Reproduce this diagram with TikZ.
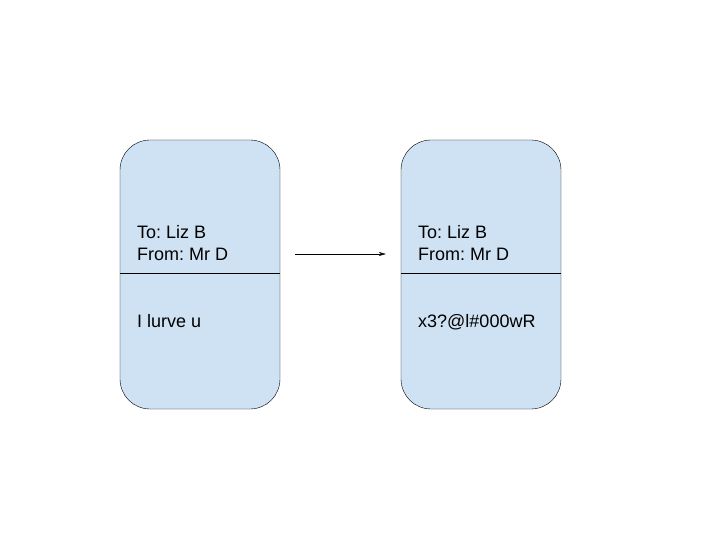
\documentclass[tikz,border=0pt]{standalone}
\usepackage{fontspec}
\setmainfont{Liberation Sans}
\usetikzlibrary{arrows.meta}
\usetikzlibrary{calc}
\definecolor{msgblue}{HTML}{CFE2F3}
\frenchspacing

\begin{document}
\begin{tikzpicture}[x=1pt,y=-1pt,font=\fontsize{18}{22}\selectfont,
	letter/.style={draw,fill=msgblue,rounded corners=30pt,minimum width=160pt,minimum height=269pt,inner sep=0pt},
	txt/.style={anchor=base west,inner sep=0pt,align=left}]
					\useasboundingbox (0,0) rectangle (720,540);
					\foreach \name/\x/\body in {plain/120/I lurve u, cipher/401/x3?@l\#000wR} {
						\node[letter] (\name) at (\x+80,274.5) {};
						\draw ($(\name.west)+(0,-1.5)$) -- ($(\name.east)+(0,-1.5)$);
						\node[txt] (\name to) at (\x+17,238) {To: Liz B};
						\node[txt] (\name from) at (\x+17,260) {From: Mr D};
						\node[txt] (\name body) at (\x+17,327) {\body};
					}
					\coordinate (arrowy) at (0,254);
					\draw[-{Stealth[length=7pt,width=4pt]},shorten <=15pt,shorten >=15pt] (plain.east |- arrowy) -- (cipher.west |- arrowy);
				\end{tikzpicture}
\end{document}
